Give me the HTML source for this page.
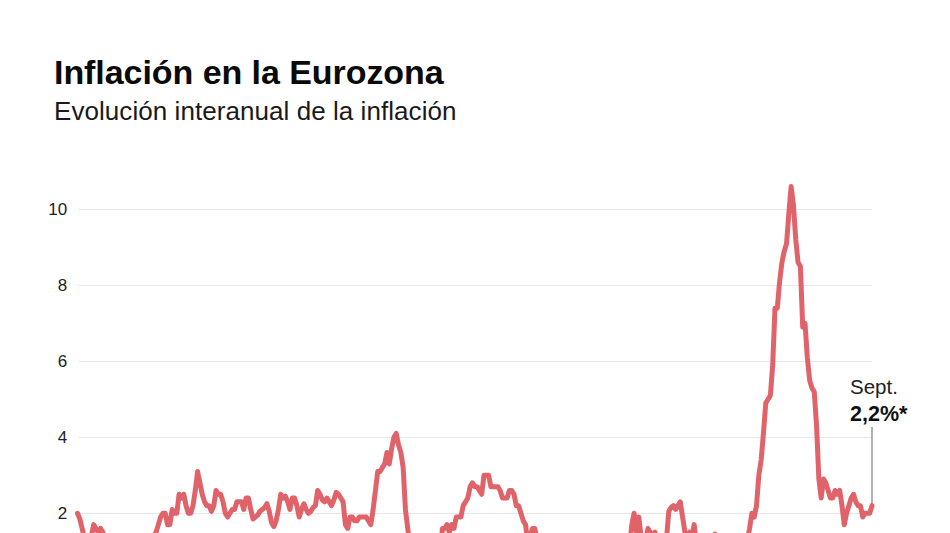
<!DOCTYPE html>
<html><head><meta charset="utf-8">
<style>
html,body{margin:0;padding:0;background:#fff;}
body{width:950px;height:533px;overflow:hidden;position:relative;font-family:"Liberation Sans",sans-serif;}
.t{position:absolute;white-space:nowrap;color:#111;}
#title{left:54px;top:52.5px;font-size:34px;font-weight:bold;letter-spacing:-0.06px;color:#0a0a0a;}
#sub{left:54px;top:96px;font-size:26px;color:#1a1a1a;letter-spacing:0.06px;}
svg{position:absolute;left:0;top:0;}
.yl{font-size:17px;fill:#222;text-anchor:end;font-family:"Liberation Sans",sans-serif;}
</style></head><body>
<div class="t" id="title">Inflación en la Eurozona</div>
<div class="t" id="sub">Evolución interanual de la inflación</div>
<svg width="950" height="533" viewBox="0 0 950 533">
<g stroke="#e8e8e8" stroke-width="1.2">
<line x1="78" x2="872" y1="209.5" y2="209.5"/>
<line x1="78" x2="872" y1="285.5" y2="285.5"/>
<line x1="78" x2="872" y1="361.5" y2="361.5"/>
<line x1="78" x2="872" y1="437.5" y2="437.5"/>
<line x1="78" x2="872" y1="513.5" y2="513.5"/>
</g>
<text class="yl" x="67.2" y="215.2">10</text>
<text class="yl" x="67.2" y="291.2">8</text>
<text class="yl" x="67.2" y="367.2">6</text>
<text class="yl" x="67.2" y="443.2">4</text>
<text class="yl" x="67.2" y="519.2">2</text>
<line x1="872" x2="872" y1="427" y2="505" stroke="#888" stroke-width="1.3"/>
<path d="M77.50,513.25 L79.81,518.95 L82.12,528.44 L84.43,537.94 L86.74,536.04 L89.05,536.04 L91.36,536.04 L93.67,524.64 L95.98,528.44 L98.29,532.24 L100.60,528.44 L102.91,532.24 L105.22,547.43 L107.52,547.43 L109.83,547.43 L112.14,539.84 L114.45,539.84 L116.76,539.84 L119.07,539.84 L121.38,547.43 L123.69,551.23 L126.00,551.23 L128.31,555.03 L130.62,558.83 L132.93,558.83 L135.24,558.83 L137.55,551.23 L139.86,547.43 L142.17,551.23 L144.48,555.03 L146.79,547.43 L149.10,543.63 L151.41,543.63 L153.72,536.04 L156.03,532.24 L158.34,524.64 L160.65,517.05 L162.95,513.25 L165.26,513.25 L167.57,524.64 L169.88,524.64 L172.19,509.45 L174.50,513.25 L176.81,513.25 L179.12,494.26 L181.43,498.06 L183.74,494.26 L186.05,505.65 L188.36,513.25 L190.67,513.25 L192.98,505.65 L195.29,490.46 L197.60,471.47 L199.91,482.87 L202.22,494.26 L204.53,501.86 L206.84,505.65 L209.15,505.65 L211.46,511.35 L213.77,505.65 L216.08,490.46 L218.39,494.26 L220.69,494.26 L223.00,501.86 L225.31,513.25 L227.62,517.05 L229.93,513.25 L232.24,509.45 L234.55,509.45 L236.86,501.86 L239.17,501.86 L241.48,501.86 L243.79,509.45 L246.10,498.06 L248.41,498.06 L250.72,509.45 L253.03,518.95 L255.34,517.05 L257.65,515.15 L259.96,511.35 L262.27,509.45 L264.58,507.55 L266.89,503.75 L269.20,511.35 L271.51,522.75 L273.82,526.54 L276.12,520.85 L278.43,509.45 L280.74,494.26 L283.05,498.06 L285.36,496.16 L287.67,501.86 L289.98,509.45 L292.29,498.06 L294.60,498.06 L296.91,505.65 L299.22,517.05 L301.53,509.45 L303.84,503.75 L306.15,509.45 L308.46,513.25 L310.77,511.35 L313.08,507.55 L315.39,505.65 L317.70,490.46 L320.01,494.26 L322.32,499.96 L324.63,501.86 L326.94,498.06 L329.25,501.86 L331.56,505.65 L333.86,499.96 L336.17,492.36 L338.48,494.26 L340.79,498.06 L343.10,501.86 L345.41,524.64 L347.72,528.44 L350.03,517.05 L352.34,517.05 L354.65,520.85 L356.96,520.85 L359.27,517.05 L361.58,517.05 L363.89,517.05 L366.20,517.05 L368.51,520.85 L370.82,524.64 L373.13,509.45 L375.44,490.46 L377.75,471.47 L380.06,471.47 L382.37,467.67 L384.68,463.87 L386.99,452.48 L389.30,463.87 L391.60,448.68 L393.91,437.29 L396.22,433.49 L398.53,444.88 L400.84,452.48 L403.15,467.67 L405.46,509.45 L407.77,528.44 L410.08,547.43 L412.39,543.63 L414.70,566.42 L417.01,566.42 L419.32,589.21 L421.63,600.61 L423.94,612.00 L426.25,596.81 L428.56,600.61 L430.87,593.01 L433.18,570.22 L435.49,555.03 L437.80,551.23 L440.11,558.83 L442.42,528.44 L444.73,528.44 L447.03,524.64 L449.34,532.24 L451.65,524.64 L453.96,528.44 L456.27,517.05 L458.58,517.05 L460.89,517.05 L463.20,505.65 L465.51,501.86 L467.82,498.06 L470.13,486.66 L472.44,482.87 L474.75,486.66 L477.06,486.66 L479.37,490.46 L481.68,494.26 L483.99,475.27 L486.30,475.27 L488.61,475.27 L490.92,486.66 L493.23,486.66 L495.54,486.66 L497.85,486.66 L500.16,490.46 L502.47,498.06 L504.77,498.06 L507.08,498.06 L509.39,490.46 L511.70,490.46 L514.01,494.26 L516.32,505.65 L518.63,505.65 L520.94,513.25 L523.25,520.85 L525.56,524.64 L527.87,543.63 L530.18,536.04 L532.49,528.44 L534.80,528.44 L537.11,539.84 L539.42,547.43 L541.73,562.63 L544.04,555.03 L546.35,558.83 L548.66,558.83 L550.97,562.63 L553.28,570.22 L555.59,562.63 L557.90,570.22 L560.20,570.22 L562.51,574.02 L564.82,574.02 L567.13,577.82 L569.44,574.02 L571.75,577.82 L574.06,596.81 L576.37,612.00 L578.68,600.61 L580.99,593.01 L583.30,589.21 L585.61,577.82 L587.92,581.62 L590.23,581.62 L592.54,585.41 L594.85,593.01 L597.16,585.41 L599.47,585.41 L601.78,581.62 L604.09,577.82 L606.40,596.81 L608.71,589.21 L611.02,596.81 L613.33,593.01 L615.64,585.41 L617.94,581.62 L620.25,581.62 L622.56,574.02 L624.87,570.22 L627.18,566.42 L629.49,547.43 L631.80,524.64 L634.11,513.25 L636.42,532.24 L638.73,517.05 L641.04,536.04 L643.35,539.84 L645.66,539.84 L647.97,528.44 L650.28,532.24 L652.59,536.04 L654.90,532.24 L657.21,539.84 L659.52,539.84 L661.83,547.43 L664.14,536.04 L666.45,539.84 L668.76,511.35 L671.07,507.55 L673.38,505.65 L675.68,509.45 L677.99,505.65 L680.30,501.86 L682.61,517.05 L684.92,532.24 L687.23,536.04 L689.54,532.24 L691.85,536.04 L694.16,524.64 L696.47,543.63 L698.78,539.84 L701.09,551.23 L703.40,551.23 L705.71,558.83 L708.02,562.63 L710.33,551.23 L712.64,539.84 L714.95,534.14 L717.26,543.63 L719.57,562.63 L721.88,577.82 L724.19,585.41 L726.50,577.82 L728.81,574.02 L731.11,596.81 L733.42,600.61 L735.73,600.61 L738.04,600.61 L740.35,600.61 L742.66,555.03 L744.97,555.03 L747.28,539.84 L749.59,528.44 L751.90,513.25 L754.21,517.05 L756.52,505.65 L758.83,475.27 L761.14,460.08 L763.45,433.49 L765.76,403.10 L768.07,399.31 L770.38,395.51 L772.69,365.12 L775.00,308.15 L777.31,308.15 L779.62,281.56 L781.93,262.57 L784.24,251.18 L786.55,243.58 L788.85,213.20 L791.16,186.61 L793.47,205.60 L795.78,239.79 L798.09,262.57 L800.40,266.37 L802.71,327.14 L805.02,323.34 L807.33,357.53 L809.64,380.32 L811.95,387.91 L814.26,391.71 L816.57,425.89 L818.88,479.07 L821.19,498.06 L823.50,479.07 L825.81,482.87 L828.12,490.46 L830.43,498.06 L832.74,498.06 L835.05,490.46 L837.36,494.26 L839.67,490.46 L841.98,505.65 L844.28,524.64 L846.59,513.25 L848.90,505.65 L851.21,498.06 L853.52,494.26 L855.83,501.86 L858.14,505.65 L860.45,505.65 L862.76,517.05 L865.07,513.25 L867.38,513.25 L869.69,513.25 L872.00,505.65" fill="none" stroke="#e0636a" stroke-width="5" stroke-linejoin="round" stroke-linecap="round"/>
</svg>
<div class="t" id="sept" style="left:850px;top:374.5px;font-size:20.5px;color:#222;">Sept.</div>
<div class="t" id="val" style="left:850px;top:401.5px;font-size:21.5px;font-weight:bold;color:#111;">2,2%*</div>
</body></html>
